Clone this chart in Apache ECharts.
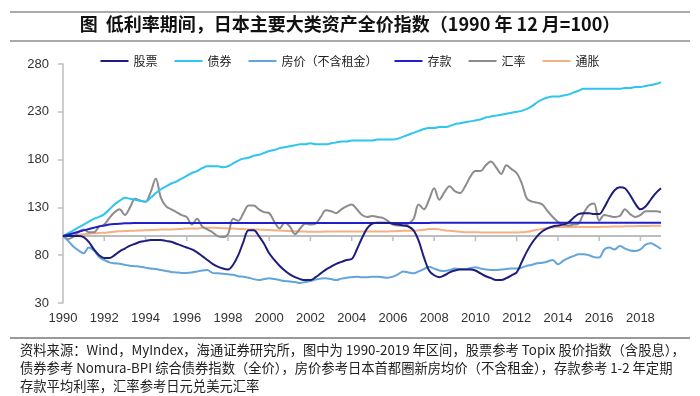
<!DOCTYPE html>
<html>
<head>
<meta charset="utf-8">
<script src="https://cdn.jsdelivr.net/npm/echarts@6/dist/echarts.min.js"></script>
<style>
html,body{margin:0;padding:0;background:#fff;}
#chart{width:700px;height:396px;}
</style>
</head>
<body>
<div id="chart"></div>
<script>
// ---- data (quarterly, first point = 1990年12月 = 100) ----
const seriesNames = ['股票', '债券', '房价（不含租金）', '存款', '汇率', '通胀'];
const tickYears = ['1990','1992','1994','1996','1998','2000','2002','2004','2006','2008','2010','2012','2014','2016','2018'];
const yTicks = [30, 80, 130, 180, 230, 280];
const baseValue = 100;

const stocks = [
100,100,100,100, 99,94,86,80, 77,77,80,84, 87,90,92,94, 95,96,96,96,
95,94,92,90, 88,86,83,79, 75,71,68,66, 65,70,80,94, 106,106,100,92,
82,75,69,64, 60,57,55,54, 54,57,61,65, 68,71,73,75, 76,86,98,108,
113,114,114,114, 113,112,111,110, 106,95,78,64, 59,57,59,62, 64,65,65,65,
64,61,58,56, 54,54,56,59, 62,73,84,93, 100,105,108,110, 111,112,114,119,
123,124,124,123, 123,130,140,148, 151,150,143,134, 128,131,138,145, 150];

const bonds = [
100,103,106,109, 112,115,118,120, 123,128,133,137, 140,139,138,137, 136,140,145,149,
152,155,157,160, 163,166,168,171, 173,173,173,172, 173,176,179,181, 182,184,185,187,
189,190,192,193, 194,195,196,196, 197,196,196,196, 197,198,199,199, 200,200,200,200,
200,201,201,201, 201,202,204,206, 208,210,212,213, 213,214,214,215, 217,218,219,220,
221,222,224,225, 226,227,228,229, 230,231,233,236, 240,243,245,246, 246,247,248,250,
252,254,254,254, 254,254,254,254, 254,255,255,256, 256,257,258,259, 261];

const housing = [
100,95,89,85, 82,88,85,78, 75,72.5,71.5,71, 70,69,68.5,68, 67,66,65.5,64.5,
63.5,62.5,62,61.5, 61.5,62,63,64, 64.5,61.5,61,60.5, 60,59.5,58,57.5, 56.5,55,54,55,
56,55,54,53, 52.5,52,51,52, 53,54.5,55.5,56, 55,54,55.5,56.5, 57,57.5,57,57,
57.5,57.5,57,56.5, 57.6,60,63,62, 61,63,65.5,68, 66,64,63.5,64.5, 66,65.5,65.5,66.5,
67.5,66,65,64.6, 64.6,65,65.5,66, 66,67,69,70, 71.6,72,73.5,75, 70.5,74,77,79,
81,81,80,78, 77.5,86,88,86, 89.5,87,85,84.5, 86,91,92.5,90, 86.5];

const deposits = [
100,101.5,103,104.5, 106,107.5,108.8,110, 111,112,112.6,113, 113.3,113.5,113.6,113.7, 113.7,113.7,113.8,113.8,
113.8,113.8,113.8,113.8, 113.8,113.8,113.8,113.8, 113.8,113.8,113.8,113.8, 113.8,113.8,113.8,113.8, 113.8,113.8,113.8,113.8,
113.8,113.8,113.8,113.8, 113.8,113.8,113.8,113.8, 113.8,113.8,113.8,113.8, 113.8,113.8,113.8,113.8, 113.8,113.8,113.8,113.8,
113.8,113.8,113.8,113.8, 113.8,113.8,113.8,113.8, 113.8,113.8,113.8,113.8, 113.9,113.9,113.9,113.9, 113.9,113.9,113.9,113.9,
113.9,113.9,113.9,113.9, 113.9,113.9,113.9,113.9, 113.9,113.9,113.9,113.9, 113.9,113.9,113.9,113.9, 113.9,113.9,113.9,113.9,
113.9,113.9,113.9,113.9, 113.9,113.9,113.9,113.9, 113.9,113.9,113.9,113.9, 113.9,113.9,113.9,113.9, 113.9];

const fx = [
100,97,99,104, 107,104,104,110, 112,119,125,128, 122,130,139,137, 136,146,160,140,
131,128,125,122, 120,112,118,110, 107,104,100,99, 102,118,116,124, 132,132,128,125,
124,115,108,114, 110,102,108,113, 112,113,120,127, 126,124,128,131, 133,128,122,120,
121,120,119,116, 112,111,111,113, 118,133,128,138, 150,138,146,152, 147,145,152,162,
168,168,174,178, 172,165,174,170, 166,155,139,136, 135,133,126,120, 115,112,111,112,
113,124,132,134, 116,122,121,120, 121,128,123,120, 122,126,126,126, 125];

const inflation = [
100,100.5,101,101.5, 102,102.5,103,103.3, 103.5,104,104.5,105, 105.3,105.5,105.7,105.8, 106,106.3,106.5,106.8,
107,107,107.2,107.5, 107.8,108,108,108.6, 108.7,108.7,108.5,108.3, 108,107.8,107.5,107.3, 107,107,106.8,106.5,
106.3,106,105.8,105.5, 105.3,105,104.8,104.7, 104.5,104.5,104.5,104.7, 104.7,104.8,104.7,104.7, 104.8,104.8,104.7,104.8,
104.8,104.7,104.7,104.8, 105,105.2,105.5,105.5, 105.6,106,106.5,107.3, 107.5,107,106,105.5, 105,104.5,104,104,
104,103.8,103.8,103.7, 103.7,103.7,103.8,103.8, 103.7,104,104.5,105.5, 106.5,107.5,108.5,109, 109.4,109.5,109.5,109.5,
109.5,109.5,109.6,109.6, 109.6,109.7,109.8,110, 110,110.2,110.3,110.4, 110.5,110.6,110.7,110.7, 110.8];

const colors = ['#1d1d7e', '#2ec5ee', '#63a5da', '#2020c8', '#8c8c8c', '#f4b183'];

// ---- quarterly category axis ----
const periods = [];
for (let i = 0; i < stocks.length; i++) {
  periods.push((1990 + Math.floor(i / 4)) + 'Q' + (i % 4 + 1));
}

const yMin = yTicks[0], yMax = yTicks[yTicks.length - 1], yStep = yTicks[1] - yTicks[0];
const grid0 = {left: 63, right: 39, top: 64, bottom: 93};
const axisGray = '#bdbdbd';

// base axis line at 100 and its tick positions (every 2 years = 8 quarters)
const baseLine = periods.map(() => baseValue);
const baseTicks = [];
for (let j = 1; j < tickYears.length; j++) baseTicks.push([periods[j * 8], baseValue]);

const allData = [stocks, bonds, housing, deposits, fx, inflation];

const chart = echarts.init(document.getElementById('chart'), null, {renderer: 'canvas'});
const font = '"Liberation Sans", Arial, sans-serif';
const cjk = '"Noto Sans CJK SC", sans-serif';

const series = [{
  name: 'base',
  type: 'line',
  data: baseLine,
  symbol: 'none',
  silent: true,
  lineStyle: {width: 2, color: axisGray},
  z: 1
}, {
  name: 'baseTicks',
  type: 'custom',
  data: baseTicks,
  silent: true,
  z: 1,
  renderItem: (params, api) => {
    const p = api.coord([api.value(0), api.value(1)]);
    return {type: 'line', shape: {x1: p[0], y1: p[1], x2: p[0], y2: p[1] + 5},
      style: {stroke: axisGray, lineWidth: 1.5}};
  }
}].concat(seriesNames.map((n, k) => ({
  name: n,
  type: 'line',
  data: allData[k],
  symbol: 'none',
  smooth: 0.35,
  lineStyle: {width: 2, color: colors[k]},
  itemStyle: {color: colors[k]},
  z: [5, 3, 2, 4, 1, 0][k] + 2
})));

chart.setOption({
  animation: false,
  backgroundColor: '#fff',
  grid: grid0,
  legend: {
    data: seriesNames,
    top: 50,
    left: 'center',
    icon: 'rect',
    itemWidth: 28,
    itemHeight: 2,
    itemGap: 17,
    textStyle: {fontFamily: cjk, fontSize: 12, color: '#222'}
  },
  xAxis: {
    type: 'category',
    data: periods,
    boundaryGap: false,
    axisLine: {show: false},
    axisTick: {show: false},
    axisLabel: {
      interval: 7,
      margin: 9,
      fontFamily: font, fontSize: 13, color: '#333',
      formatter: (v, idx) => tickYears[Math.round(idx / 8)] || ''
    }
  },
  yAxis: {
    type: 'value',
    min: yMin, max: yMax, interval: yStep,
    axisLine: {show: true, lineStyle: {color: axisGray, width: 1.5}},
    axisTick: {show: true, length: 5, lineStyle: {color: axisGray, width: 1.5}},
    splitLine: {show: false},
    axisLabel: {margin: 14, fontFamily: font, fontSize: 13, color: '#333'}
  },
  series: series,
  graphic: [
    {type: 'line', shape: {x1: 10, y1: 12, x2: 690, y2: 12}, style: {stroke: '#8c8c8c', lineWidth: 1.5}},
    {type: 'line', shape: {x1: 10, y1: 41, x2: 690, y2: 41}, style: {stroke: '#8c8c8c', lineWidth: 1.5}},
    {type: 'text', left: 'center', top: 15,
      style: {text: '图  低利率期间，日本主要大类资产全价指数（1990 年 12 月=100）', font: 'bold 18px "Noto Sans CJK SC", sans-serif', fill: '#111'}},
    {type: 'line', shape: {x1: 10, y1: 338, x2: 690, y2: 338}, style: {stroke: '#777', lineWidth: 1.5}},
    {type: 'text', left: 20, top: 343,
      style: {text: '资料来源：Wind，MyIndex，海通证券研究所，图中为 1990-2019 年区间，股票参考 Topix 股价指数（含股息），', font: '13.3px "Noto Sans CJK SC", sans-serif', fill: '#222'}},
    {type: 'text', left: 20, top: 361,
      style: {text: '债券参考 Nomura-BPI 综合债券指数（全价），房价参考日本首都圈新房均价（不含租金），存款参考 1-2 年定期', font: '13.3px "Noto Sans CJK SC", sans-serif', fill: '#222'}},
    {type: 'text', left: 20, top: 379,
      style: {text: '存款平均利率，汇率参考日元兑美元汇率', font: '13.3px "Noto Sans CJK SC", sans-serif', fill: '#222'}}
  ]
});
</script>
</body>
</html>
